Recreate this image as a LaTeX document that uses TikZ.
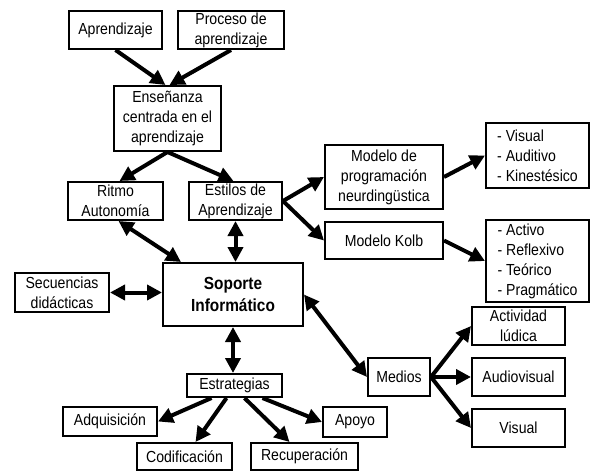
\documentclass[tikz,border=0pt]{standalone}
\usepackage{fontspec}
\setmainfont{Liberation Sans}[FakeStretch=0.88]
\usepackage{tikz}
\usetikzlibrary{arrows.meta, positioning}
\tikzset{concept/.style={draw, line width=2pt, inner sep=0pt, align=center, font=\fontsize{16}{20}\selectfont},
  itemlist/.style={concept, align=left}}

\begin{document}
\begin{tikzpicture}[x=1pt, y=-1pt, >={Triangle[length=15pt, width=15pt]}, line width=4pt]
\useasboundingbox (0,0) rectangle (590,471);
\node[concept, minimum width=93pt, minimum height=38pt] (aprend) at (115.5,30) {Aprendizaje};
\node[concept, minimum width=106pt, minimum height=38pt, right=14pt of aprend] (proceso) {Proceso de\\aprendizaje};
\node[concept, minimum width=107pt, minimum height=65pt] (ensenanza) at (167.5,118.5) {Enseñanza\\centrada en el\\aprendizaje};
\node[concept, minimum width=95pt, minimum height=38pt] (ritmo) at (115.5,201) {Ritmo\\Autonomía};
\node[concept, minimum width=93pt, minimum height=38pt, right=24pt of ritmo] (estilos) {Estilos de\\Aprendizaje};
\node[concept, minimum width=118pt, minimum height=64pt] (modprog) at (384,177) {Modelo de\\programación\\neurdingüstica};
\node[concept, minimum width=118pt, minimum height=37pt, below=11pt of modprog] (kolb) {Modelo Kolb};
\node[itemlist, minimum width=103pt, minimum height=65pt] (vak) at (537.5,155.5) {- Visual\\- Auditivo\\- Kinestésico};
\node[itemlist, minimum width=103pt, minimum height=82pt] (kolblist) at (537.5,261) {- Activo\\- Reflexivo\\- Teórico\\- Pragmático};
\node[concept, minimum width=94pt, minimum height=39pt] (secuencias) at (62,292.5) {Secuencias\\didácticas};
\node[concept, minimum width=140pt, minimum height=63pt, font=\fontsize{17.5}{22}\selectfont\bfseries] (soporte) at (233,294.5) {Soporte\\Informático};
\node[concept, minimum width=95pt, minimum height=23pt] (estrategias) at (234.5,385.5) {Estrategias};
\node[concept, minimum width=94pt, minimum height=29pt] (adquisicion) at (110,421.5) {Adquisición};
\node[concept, minimum width=95pt, minimum height=27pt] (codificacion) at (184.5,456.5) {Codificación};
\node[concept, minimum width=107pt, minimum height=27pt, right=17pt of codificacion] (recuperacion) {Recuperación};
\node[concept, minimum width=64pt, minimum height=30pt] (apoyo) at (355,422) {Apoyo};
\node[concept, minimum width=62pt, minimum height=38pt] (medios) at (399,377) {Medios};
\node[concept, minimum width=93pt, minimum height=38pt, right=40pt of medios] (audiovisual) {Audiovisual};
\node[concept, minimum width=93pt, minimum height=38pt, above=11pt of audiovisual] (actividad) {Actividad\\lúdica};
\node[concept, minimum width=93pt, minimum height=38pt, below=11pt of audiovisual] (visual) {Visual};

% arriba
\draw [->] (aprend.south) -- ([xshift=-2pt]ensenanza.north);
\draw [->] (proceso.south) -- ([xshift=2pt]ensenanza.north);
\draw [->] (ensenanza.south) -- ([xshift=4pt]ritmo.north);
\draw [->] (ensenanza.south) -- ([xshift=-2pt]estilos.north);
\draw [->] (estilos.east) -- (modprog.west);
\draw [->] (estilos.east) -- (kolb.west);
\draw [->] (modprog.east) -- (vak.west);
\draw [->] (kolb.east) -- (kolblist.west);

% soporte
\draw [<->] ([xshift=3pt]ritmo.south) -- ([xshift=19pt]soporte.north west);
\draw [<->] (estilos.south) -- (estilos.south |- soporte.north);
\draw [<->] (secuencias.east) -- (secuencias.east -| soporte.west);
\draw [<->] (soporte.east) -- (medios.west);
\draw [<->] (soporte.south) -- (soporte.south |- estrategias.north);

% abajo
\draw [->] ([xshift=-23pt]estrategias.south) -- (adquisicion.east);
\draw [->] ([xshift=-8pt]estrategias.south) -- ([xshift=11pt]codificacion.north);
\draw [->] ([xshift=10pt]estrategias.south) -- ([xshift=-15pt]recuperacion.north);
\draw [->] ([xshift=28pt]estrategias.south) -- (apoyo.west);
\draw [->] (medios.east) -- (actividad.west);
\draw [->] (medios.east) -- (audiovisual.west);
\draw [->] (medios.east) -- (visual.west);
\end{tikzpicture}
\end{document}
